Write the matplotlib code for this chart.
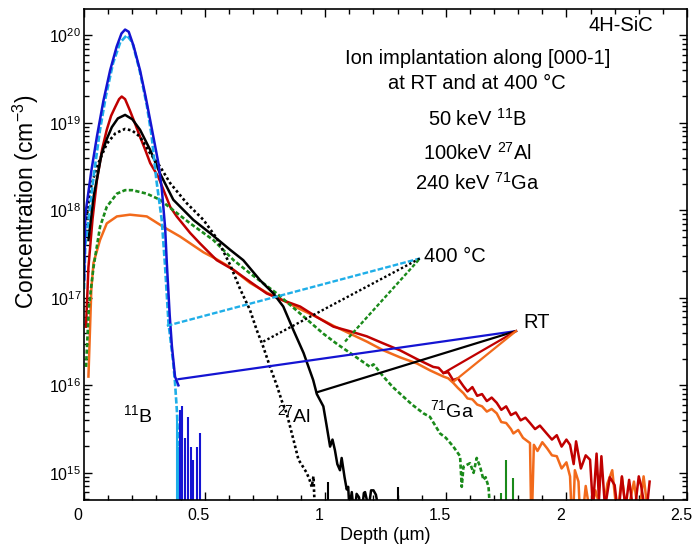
import numpy as np
import matplotlib
matplotlib.use("Agg")
import matplotlib.pyplot as plt
import matplotlib.transforms as mtransforms
from matplotlib.ticker import LogLocator, MultipleLocator

plt.rcParams['font.family'] = ['Liberation Sans', 'DejaVu Sans']
plt.rcParams['mathtext.fontset'] = 'custom'
plt.rcParams['mathtext.rm'] = 'Liberation Sans'
plt.rcParams['mathtext.it'] = 'Liberation Sans:italic'
plt.rcParams['mathtext.bf'] = 'Liberation Sans:bold'

# SIMS depth profiles, depth in um, concentration as log10(cm^-3)
b_rt_x = [0.0, 0.005, 0.03, 0.053, 0.08, 0.108, 0.135, 0.155, 0.17, 0.185, 0.205, 0.232, 0.255, 0.274,
          0.29, 0.308, 0.322, 0.336, 0.343, 0.355, 0.364, 0.377, 0.391]
b_rt_y = [17.2, 17.95, 18.45, 18.84, 19.25, 19.6, 19.87, 20.02, 20.065, 20.04, 19.88, 19.6, 19.3, 19.03,
          18.8, 18.54, 18.25, 17.8, 17.4, 16.8, 16.45, 16.1, 16.0]

b_ht_x = [0.0, 0.005, 0.018, 0.04, 0.066, 0.09, 0.12, 0.15, 0.177, 0.2, 0.23, 0.26, 0.28, 0.30, 0.322,
          0.336, 0.35, 0.37, 0.377, 0.385, 0.391]
b_ht_y = [17.1, 17.6, 17.89, 18.4, 18.92, 19.3, 19.68, 19.92, 20.0, 19.92, 19.6, 19.2, 18.85, 18.34, 17.89,
          17.35, 16.71, 16.25, 16.03, 15.7, 15.3]

al_rt_x = [0.018, 0.039, 0.073, 0.095, 0.115, 0.14, 0.17, 0.2, 0.232, 0.274, 0.315, 0.37, 0.453, 0.522,
           0.605, 0.66, 0.73, 0.785, 0.826, 0.868, 0.91, 0.95, 0.965, 0.992, 1.005, 1.02, 1.03, 1.04,
           1.05, 1.061, 1.068, 1.08, 1.089, 1.095, 1.10, 1.11, 1.12, 1.13, 1.14, 1.15, 1.16, 1.165,
           1.18, 1.19, 1.20, 1.21, 1.22]
al_rt_y = [17.66, 18.15, 18.65, 18.82, 18.95, 19.05, 19.09, 19.04, 18.92, 18.69, 18.42, 18.12, 17.89, 17.74,
           17.55, 17.43, 17.2, 17.05, 16.9, 16.63, 16.37, 16.06, 15.9, 15.76, 15.55, 15.3, 15.38, 15.26,
           15.1, 15.03, 15.17, 14.95, 14.81, 14.84, 14.6, 14.78, 14.5, 14.76, 14.72, 14.5, 14.77, 14.78,
           14.6, 14.8, 14.8, 14.75, 14.6]

al_ht_x = [0.01, 0.025, 0.053, 0.094, 0.13, 0.17, 0.2, 0.232, 0.274, 0.315, 0.357, 0.426, 0.495, 0.55,
           0.605, 0.647, 0.688, 0.716, 0.743, 0.771, 0.799, 0.82, 0.84, 0.868, 0.889, 0.903, 0.923,
           0.935, 0.944, 0.951, 0.958]
al_ht_y = [17.9, 18.23, 18.5, 18.76, 18.88, 18.93, 18.91, 18.84, 18.65, 18.5, 18.31, 18.08, 17.89, 17.68,
           17.38, 17.1, 16.86, 16.63, 16.44, 16.21, 16.0, 15.82, 15.68, 15.38, 15.15, 15.09, 15.0,
           14.92, 14.84, 14.96, 14.5]

ga_rt1_x = [0.008, 0.018, 0.035, 0.053, 0.075, 0.094, 0.112, 0.129, 0.145, 0.156, 0.17, 0.19, 0.21, 0.232,
            0.255, 0.274, 0.308, 0.357, 0.384, 0.44, 0.481, 0.55, 0.619, 0.69, 0.757, 0.826, 0.896, 0.965,
            1.034, 1.10, 1.172, 1.24, 1.31, 1.38, 1.448, 1.47, 1.49, 1.51, 1.53, 1.55, 1.573, 1.59, 1.61,
            1.63, 1.65, 1.67, 1.69, 1.711, 1.73, 1.75, 1.77, 1.79, 1.81, 1.83, 1.849, 1.87, 1.89, 1.918,
            1.94, 1.96, 1.98, 2.0, 2.015, 2.03, 2.04, 2.06, 2.08, 2.098, 2.11, 2.125, 2.135, 2.145, 2.16,
            2.18, 2.2, 2.215, 2.23, 2.245, 2.26, 2.28, 2.3, 2.31, 2.33, 2.345]
ga_rt1_y = [16.67, 17.35, 17.9, 18.34, 18.7, 18.92, 19.08, 19.18, 19.27, 19.3, 19.27, 19.14, 19.0, 18.84,
            18.68, 18.54, 18.38, 18.04, 17.93, 17.74, 17.62, 17.43, 17.32, 17.18, 17.05, 16.97, 16.9, 16.78,
            16.67, 16.62, 16.56, 16.48, 16.4, 16.3, 16.21, 16.2, 16.14, 16.15, 16.06, 16.08, 15.99, 15.93, 15.98,
            15.88, 15.9, 15.82, 15.86, 15.8, 15.72, 15.76, 15.66, 15.69, 15.6, 15.63, 15.57, 15.5, 15.54, 15.45,
            15.38, 15.43, 15.3, 15.38, 15.32, 15.1, 15.36, 15.05, 15.2, 15.15, 14.6, 15.22, 14.7, 15.19, 14.6,
            14.95, 14.86, 14.5, 14.96, 14.6, 14.92, 14.5, 14.96, 14.85, 14.5, 14.9]

ga_rt2_x = [0.018, 0.03, 0.039, 0.066, 0.094, 0.136, 0.19, 0.26, 0.329, 0.398, 0.495, 0.55, 0.605, 0.688,
            0.757, 0.826, 0.896, 0.965, 1.034, 1.103, 1.172, 1.241, 1.31, 1.38, 1.435, 1.49, 1.51, 1.53,
            1.55, 1.573, 1.59, 1.61, 1.63, 1.65, 1.67, 1.69, 1.711, 1.73, 1.75, 1.77, 1.78, 1.80, 1.82,
            1.849, 1.855, 1.865, 1.88, 1.90, 1.92, 1.94, 1.96, 1.98, 2.0, 2.015, 2.025, 2.035, 2.05, 2.06,
            2.08, 2.10, 2.12, 2.15, 2.17, 2.19, 2.21, 2.23, 2.25, 2.28, 2.30, 2.32, 2.34]
ga_rt2_y = [16.1, 17.1, 17.4, 17.66, 17.85, 17.93, 17.95, 17.93, 17.81, 17.7, 17.52, 17.44, 17.35, 17.17,
            17.06, 16.97, 16.87, 16.78, 16.68, 16.59, 16.5, 16.4, 16.32, 16.25, 16.17, 16.1, 16.08, 16.03,
            15.97, 15.91, 15.85, 15.84, 15.78, 15.76, 15.7, 15.73, 15.68, 15.58, 15.57, 15.5, 15.45, 15.49, 15.4,
            15.34, 14.3, 15.32, 15.25, 15.35, 15.28, 15.2, 15.19, 15.05, 15.12, 14.96, 14.3, 15.03, 14.9, 14.3,
            14.85, 14.5, 14.8, 14.5, 14.88, 15.03, 14.5, 14.95, 14.5, 14.9, 14.5, 14.96, 14.5]

ga_ht_x = [0.008, 0.02, 0.039, 0.066, 0.094, 0.136, 0.17, 0.2, 0.26, 0.315, 0.37, 0.44, 0.536, 0.62,
           0.688, 0.799, 0.896, 0.992, 1.05, 1.103, 1.15, 1.186, 1.20, 1.241, 1.28, 1.324, 1.36, 1.407,
           1.434, 1.476, 1.50, 1.531, 1.559, 1.566, 1.573, 1.6, 1.615, 1.628, 1.642, 1.656, 1.665, 1.677,
           1.685]
ga_ht_y = [16.21, 16.9, 17.35, 17.81, 18.04, 18.19, 18.23, 18.23, 18.19, 18.12, 18.0, 17.85, 17.66, 17.43,
           17.28, 17.05, 16.82, 16.59, 16.47, 16.37, 16.28, 16.21, 16.24, 16.1, 15.98, 15.87, 15.78, 15.68,
           15.64, 15.45, 15.4, 15.3, 15.19, 14.84, 15.07, 15.11, 15.0, 15.17, 15.07, 14.92, 14.95, 14.84,
           14.5]

# isolated counts in the profile tails
b_rt_spike_x = [0.398, 0.405, 0.418, 0.432, 0.445, 0.453, 0.468, 0.481]
b_rt_spike_y = [15.72, 15.76, 15.4, 15.64, 15.3, 15.15, 15.3, 15.46]
b_ht_spike_x = [0.386, 0.393, 0.40, 0.408]
b_ht_spike_y = [15.6, 15.3, 15.15, 15.2]
al_ht_spike_x = [1.013]
al_ht_spike_y = [14.9]
al_rt_spike_x = [1.303]
al_rt_spike_y = [14.84]
ga_ht_spike_x = [1.729, 1.748, 1.78]
ga_ht_spike_y = [14.77, 15.15, 14.94]

# leader lines for the group labels (depth, log10 conc)
ht_anchor = (1.393, 17.45)
ht_ends = {'b': (0.343, 16.68), 'al': (0.743, 16.50), 'ga': (1.082, 16.50)}
rt_anchor = (1.791, 16.62)
rt_ends = {'b': (0.391, 16.07), 'al': (0.965, 15.92), 'ga1': (1.49, 16.14), 'ga2': (1.531, 16.04)}

c_blue = '#1414d2'
c_lblue = '#1eaee8'
c_red = '#c00000'
c_orange = '#f26a1b'
c_green = '#1a8a1a'

dot = (0, (1, 1))
dash_g = (0, (1.6, 0.9))
dash_b = (0, (2.4, 0.9))

fig = plt.figure(figsize=(6.95, 5.49), dpi=100)
ax = fig.add_axes([0.121, 0.0893, 0.8675, 0.8943])

def pw(v):
    return 10.0 ** np.asarray(v)

ylo = 10 ** 14.69

ax.plot(ga_rt2_x, pw(ga_rt2_y), color=c_orange, lw=1.8)
ax.plot(ga_rt1_x, pw(ga_rt1_y), color=c_red, lw=1.8)
ax.plot(ga_ht_x, pw(ga_ht_y), color=c_green, lw=1.9, ls=dash_g)
ax.plot(al_rt_x, pw(al_rt_y), color='black', lw=1.8)
ax.plot(al_ht_x, pw(al_ht_y), color='black', lw=1.9, ls=dot)
ax.plot(b_ht_x, pw(b_ht_y), color=c_lblue, lw=1.9, ls=dash_b)
ax.plot(b_rt_x, pw(b_rt_y), color=c_blue, lw=1.8)

ax.vlines(b_ht_spike_x, ylo, pw(b_ht_spike_y), color=c_lblue, lw=1.5)
ax.vlines(b_rt_spike_x, ylo, pw(b_rt_spike_y), color=c_blue, lw=1.5)
ax.vlines(al_ht_spike_x, ylo, pw(al_ht_spike_y), color='black', lw=1.5)
ax.vlines(al_rt_spike_x, ylo, pw(al_rt_spike_y), color='black', lw=1.5)
ax.vlines(ga_ht_spike_x, ylo, pw(ga_ht_spike_y), color=c_green, lw=1.5)

# 400 C leaders
for key, col, ls in [('b', c_lblue, dash_b), ('al', 'black', dot), ('ga', c_green, dash_g)]:
    x0, y0 = ht_ends[key]
    ax.plot([x0, ht_anchor[0]], pw([y0, ht_anchor[1]]), color=col, lw=1.7, ls=ls)
# RT leaders
for key, col in [('b', c_blue), ('al', 'black'), ('ga1', c_red), ('ga2', c_orange)]:
    x0, y0 = rt_ends[key]
    ax.plot([x0, rt_anchor[0]], pw([y0, rt_anchor[1]]), color=col, lw=1.6)

ax.set_yscale('log')
ax.set_xlim(0, 2.5)
ax.set_ylim(ylo, 10 ** 20.3)
ax.xaxis.set_major_locator(MultipleLocator(0.5))
ax.xaxis.set_minor_locator(MultipleLocator(0.1))
ax.yaxis.set_major_locator(LogLocator(base=10, numticks=10))
ax.yaxis.set_minor_locator(LogLocator(base=10, subs=np.arange(2, 10), numticks=20))
ax.set_xticks([0, 0.5, 1, 1.5, 2, 2.5])
ax.set_xticklabels(['0', '0.5', '1', '1.5', '2', '2.5'])
ax.tick_params(which='both', direction='in', top=True, right=True, labelsize=11.5)
ax.tick_params(which='major', length=6, width=1)
ax.tick_params(which='minor', length=3.5, width=1)
ax.tick_params(axis='x', pad=6)
ax.tick_params(axis='y', pad=2)
for s in ax.spines.values():
    s.set_linewidth(1.2)

# x tick labels sit slightly left of their ticks
shift = mtransforms.ScaledTranslation(-6 / 100, 0, fig.dpi_scale_trans)
for lab in ax.get_xticklabels():
    lab.set_transform(lab.get_transform() + shift)

ax.set_xlabel('Depth (µm)', fontsize=13, labelpad=3)
ax.set_ylabel('Concentration (cm$^{-3}$)', fontsize=16.5)
ax.yaxis.set_label_coords(-0.072, 0.607)

tx = dict(fontsize=14.5, ha='center', va='center')
ax.text(0.891, 0.967, '4H-SiC', transform=ax.transAxes, **tx)
ax.text(0.652, 0.899, 'Ion implantation along [000-1]', transform=ax.transAxes, **tx)
ax.text(0.652, 0.848, 'at RT and at 400 °C', transform=ax.transAxes, **tx)
ax.text(0.652, 0.777, '50 keV $^{11}$B', transform=ax.transAxes, **tx)
ax.text(0.652, 0.707, '100keV $^{27}$Al', transform=ax.transAxes, **tx)
ax.text(0.652, 0.646, '240 keV $^{71}$Ga', transform=ax.transAxes, **tx)

ax.text(1.41, 10 ** 17.47, '400 °C', fontsize=14.5, ha='left', va='center')
ax.text(1.82, 10 ** 16.72, 'RT', fontsize=14.5, ha='left', va='center')
ax.text(0.225, 10 ** 15.66, '$^{11}$B', fontsize=14, ha='center', va='center')
ax.text(0.87, 10 ** 15.66, '$^{27}$Al', fontsize=14, ha='center', va='center')
ax.text(1.526, 10 ** 15.72, '$^{71}$Ga', fontsize=14, ha='center', va='center')

fig.savefig('out.png', dpi=100)
